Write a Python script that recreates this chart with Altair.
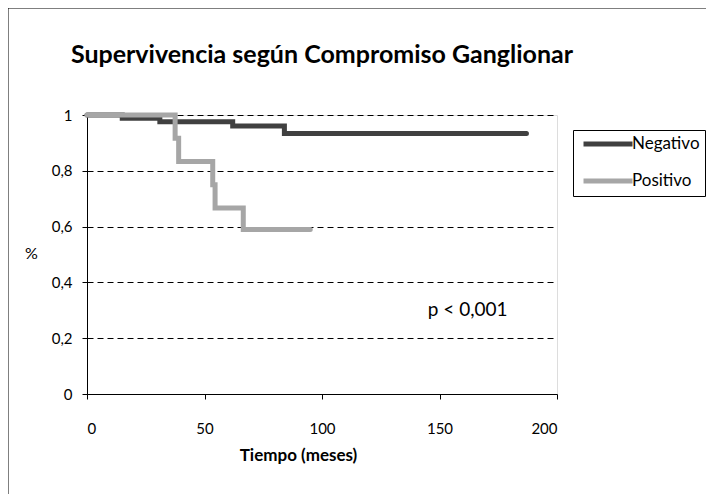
import altair as alt
import pandas as pd

# Kaplan-Meier step data
neg_t = [0, 15, 31, 62, 84, 187]
neg_s = [1.0, 0.988, 0.976, 0.961, 0.934, 0.934]
pos_t = [0, 37.5, 39, 53.5, 54.5, 66.5, 95]
pos_s = [1.0, 0.917, 0.833, 0.75, 0.667, 0.59, 0.59]
series = ["Negativo", "Positivo"]
colors = ["#404040", "#a6a6a6"]
y_ticks = [0, 0.2, 0.4, 0.6, 0.8, 1]
x_ticks = [0, 50, 100, 150, 200]
annot_text = ["p < 0,001"]
annot_x = [162]
annot_y = [0.28]

FONT = "Lato"

df = pd.DataFrame({
    "t": neg_t + pos_t,
    "s": neg_s + pos_s,
    "grupo": [series[0]] * len(neg_t) + [series[1]] * len(pos_t),
})
ann = pd.DataFrame({"x": annot_x, "y": annot_y, "txt": annot_text})
frame = pd.DataFrame({"a": [0]})

lines = alt.Chart(df).mark_line(
    interpolate="step-after", strokeWidth=5, strokeCap="round", strokeJoin="miter"
).encode(
    x=alt.X("t:Q", scale=alt.Scale(domain=[0, 200], nice=False),
            axis=alt.Axis(values=x_ticks, title="Tiempo (meses)", grid=False,
                          titleX=211, titleY=66, titleBaseline="alphabetic",
                          titleFontSize=17, titleFontWeight="bold",
                          labelFontSize=15, labelPadding=22, tickSize=5,
                          domainColor="black", tickColor="black",
                          labelColor="black", titleColor="black",
                          titleFont=FONT, labelFont=FONT)),
    y=alt.Y("s:Q", scale=alt.Scale(domain=[0, 1], nice=False),
            axis=alt.Axis(values=y_ticks, title="%", titleAngle=0,
                          titleX=-56, titleY=143, titleAlign="center",
                          titleBaseline="alphabetic", titleFontSize=16,
                          titleFontWeight="normal",
                          labelExpr="replace(format(datum.value, '~g'), '.', ',')",
                          labelFontSize=15, labelPadding=10, tickSize=5,
                          grid=True, gridColor="black", gridDash=[6, 4],
                          gridWidth=1, domainColor="black", tickColor="black",
                          labelColor="black", titleColor="black",
                          titleFont=FONT, labelFont=FONT)),
    color=alt.Color("grupo:N", scale=alt.Scale(domain=series, range=colors),
                    legend=alt.Legend(title=None, orient="none", legendX=486, legendY=15,
                                      symbolType="M-4,0H4", symbolSize=150,
                                      symbolStrokeWidth=5, symbolOffset=21,
                                      labelOffset=15,
                                      labelFontSize=17, labelFont=FONT,
                                      labelColor="black", rowPadding=17,
                                      padding=5, strokeColor="black",
                                      fillColor="white")),
    order=alt.Order("t:Q"),
)

text = alt.Chart(ann).mark_text(
    fontSize=19, font=FONT, baseline="alphabetic", align="center", color="black"
).encode(x="x:Q", y="y:Q", text="txt:N")

border_left = alt.Chart(frame).mark_rule(color="black", strokeWidth=1).encode(
    x=alt.value(-79), y=alt.value(-107), y2=alt.value(500)
)
border_top = alt.Chart(frame).mark_rule(color="black", strokeWidth=1).encode(
    x=alt.value(-79), x2=alt.value(700), y=alt.value(-107)
)

chart = alt.layer(border_left, border_top, lines, text).properties(
    width=470,
    height=279,
    autosize="none",
    padding={"left": 79, "top": 107, "right": 149, "bottom": 100},
    title=alt.TitleParams("Supervivencia según Compromiso Ganglionar",
                          anchor="middle", frame="group", offset=-60,
                          fontSize=25, font=FONT, fontWeight="bold", color="black"),
).configure_view(stroke="black", strokeWidth=1).configure(background="white")

chart.save("out.html", embed_options={"renderer": "svg", "actions": False})
